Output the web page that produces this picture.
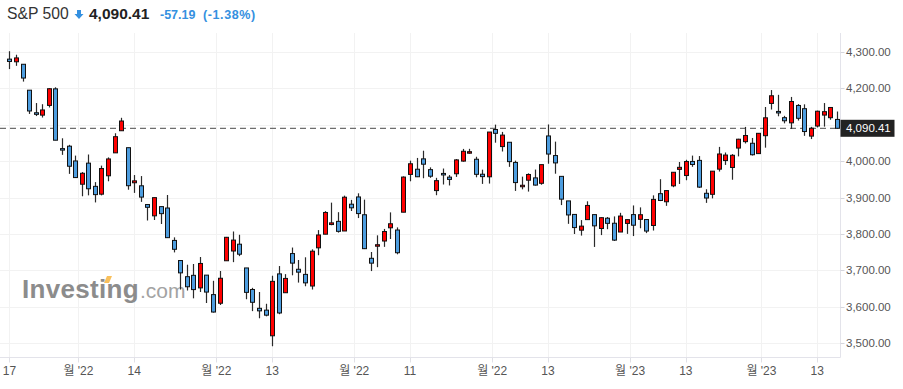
<!DOCTYPE html>
<html>
<head>
<meta charset="utf-8">
<script src="https://cdn.jsdelivr.net/npm/d3@7"></script>
<style>
  body { margin: 0; background: #fff; }
  svg { display: block; font-family: "Liberation Sans", Arial, "Noto Sans CJK KR", sans-serif; }
</style>
</head>
<body>
<script>
// S&P 500 daily candles, Aug 17 2022 - Feb 16 2023
var dates = [
  "2022-08-17","2022-08-18","2022-08-19","2022-08-22","2022-08-23","2022-08-24","2022-08-25","2022-08-26","2022-08-29","2022-08-30","2022-08-31",
  "2022-09-01","2022-09-02","2022-09-06","2022-09-07","2022-09-08","2022-09-09","2022-09-12","2022-09-13","2022-09-14","2022-09-15","2022-09-16",
  "2022-09-19","2022-09-20","2022-09-21","2022-09-22","2022-09-23","2022-09-26","2022-09-27","2022-09-28","2022-09-29","2022-09-30",
  "2022-10-03","2022-10-04","2022-10-05","2022-10-06","2022-10-07","2022-10-10","2022-10-11","2022-10-12","2022-10-13","2022-10-14",
  "2022-10-17","2022-10-18","2022-10-19","2022-10-20","2022-10-21","2022-10-24","2022-10-25","2022-10-26","2022-10-27","2022-10-28","2022-10-31",
  "2022-11-01","2022-11-02","2022-11-03","2022-11-04","2022-11-07","2022-11-08","2022-11-09","2022-11-10","2022-11-11","2022-11-14","2022-11-15",
  "2022-11-16","2022-11-17","2022-11-18","2022-11-21","2022-11-22","2022-11-23","2022-11-25","2022-11-28","2022-11-29","2022-11-30",
  "2022-12-01","2022-12-02","2022-12-05","2022-12-06","2022-12-07","2022-12-08","2022-12-09","2022-12-12","2022-12-13","2022-12-14","2022-12-15",
  "2022-12-16","2022-12-19","2022-12-20","2022-12-21","2022-12-22","2022-12-23","2022-12-27","2022-12-28","2022-12-29","2022-12-30",
  "2023-01-03","2023-01-04","2023-01-05","2023-01-06","2023-01-09","2023-01-10","2023-01-11","2023-01-12","2023-01-13","2023-01-17",
  "2023-01-18","2023-01-19","2023-01-20","2023-01-23","2023-01-24","2023-01-25","2023-01-26","2023-01-27","2023-01-30","2023-01-31",
  "2023-02-01","2023-02-02","2023-02-03","2023-02-06","2023-02-07","2023-02-08","2023-02-09","2023-02-10","2023-02-13","2023-02-14","2023-02-15","2023-02-16"
];
var open = [
  4280.40,4273.13,4266.31,4195.08,4133.09,4126.55,4153.26,4198.74,4034.58,4041.25,4000.67,
  3936.73,3994.66,3930.89,3909.43,3959.94,4022.94,4083.67,4037.12,3940.73,3932.41,3880.95,
  3849.91,3875.23,3871.40,3782.36,3727.14,3682.72,3686.44,3651.94,3687.01,3633.48,
  3609.78,3726.46,3753.25,3771.97,3706.74,3647.51,3595.86,3590.83,3520.37,3690.41,
  3638.65,3746.26,3703.11,3689.05,3657.10,3762.01,3799.44,3825.97,3834.69,3808.26,3881.85,
  3901.79,3852.90,3733.25,3766.98,3780.71,3817.02,3810.94,3859.89,3963.72,3977.97,4006.41,
  3976.82,3919.26,3966.39,3956.23,3965.51,4000.30,4023.34,4005.36,3964.19,3957.18,
  4087.14,4040.17,4052.02,3996.63,3933.28,3947.79,3954.17,3939.29,4069.38,4015.54,3958.37,
  3890.91,3853.79,3810.47,3839.49,3853.26,3815.11,3843.34,3829.56,3805.45,3829.06,
  3853.29,3840.36,3839.74,3823.37,3910.82,3888.57,3932.35,3977.57,3960.60,3999.28,
  4002.25,3911.84,3909.04,3978.14,4001.74,3982.71,4036.08,4053.72,4049.27,4020.85,
  4070.07,4158.68,4136.69,4119.57,4105.35,4153.11,4144.25,4068.92,4096.62,4126.70,4119.50,4114.75
];
var high = [
  4302.18,4292.53,4266.31,4195.08,4159.77,4156.56,4200.54,4203.04,4062.99,4044.98,4015.37,
  3970.23,4018.43,3942.55,3987.89,4010.50,4076.81,4119.28,4037.12,3961.94,3959.14,3880.95,
  3900.45,3876.01,3907.07,3790.78,3727.14,3715.67,3717.53,3736.74,3687.01,3671.44,
  3698.35,3791.92,3806.91,3797.93,3706.74,3652.17,3640.66,3608.34,3685.41,3712.00,
  3689.73,3762.79,3728.58,3736.00,3757.89,3810.74,3862.85,3886.15,3859.95,3905.42,3893.73,
  3911.79,3894.44,3750.59,3796.34,3813.95,3859.40,3818.20,3958.33,4001.48,4008.97,4028.84,
  3983.09,3954.33,3979.89,3962.00,4005.88,4033.78,4034.02,4012.27,3976.77,4080.11,
  4100.51,4080.48,4052.45,4001.51,3957.57,3966.64,3977.02,3990.71,4100.96,4053.76,3958.37,
  3890.91,3854.86,3838.24,3889.82,3853.26,3845.80,3846.65,3848.33,3858.19,3839.85,
  3878.46,3873.16,3839.74,3906.19,3950.57,3919.83,3970.07,3997.76,4003.95,4015.39,
  4014.16,3922.94,3972.96,4039.31,4023.92,4019.55,4061.57,4094.21,4063.85,4077.16,
  4148.95,4195.44,4182.36,4124.63,4176.54,4156.85,4156.23,4094.36,4138.90,4159.77,4148.11,4136.54
];
var low = [
  4253.08,4261.98,4218.70,4129.86,4124.03,4119.97,4147.59,4057.66,4017.42,3965.21,3954.53,
  3903.65,3906.21,3886.75,3906.03,3944.81,4022.94,4083.67,3921.65,3912.97,3888.28,3837.08,
  3838.50,3827.54,3789.49,3749.45,3647.47,3644.76,3623.29,3640.61,3610.40,3584.13,
  3604.93,3726.46,3722.66,3739.22,3620.73,3588.10,3568.45,3573.86,3491.58,3579.68,
  3638.65,3686.53,3666.51,3656.44,3647.42,3741.65,3799.44,3824.07,3803.79,3808.26,3863.18,
  3843.80,3758.68,3698.15,3708.84,3764.70,3786.28,3744.22,3859.89,3944.82,3956.40,3953.17,
  3954.34,3906.54,3935.98,3933.34,3956.88,3998.66,4020.76,3955.77,3937.65,3938.58,
  4050.87,4026.63,3984.49,3918.39,3922.68,3916.54,3933.04,3935.30,3993.03,3965.65,3879.45,
  3827.91,3800.04,3795.62,3839.49,3764.49,3797.01,3813.22,3780.78,3805.45,3800.34,
  3794.33,3815.77,3802.42,3809.56,3890.42,3877.29,3928.54,3937.56,3947.67,3984.57,
  3926.59,3885.54,3897.86,3971.64,3989.79,3949.06,4013.29,4048.70,4015.55,4020.44,
  4037.20,4141.88,4123.36,4103.98,4088.39,4111.67,4069.67,4060.79,4092.67,4095.01,4113.86,4089.39
];
var close = [
  4274.04,4283.74,4228.48,4137.99,4128.73,4140.77,4199.12,4057.66,4030.61,3986.16,3955.00,
  3966.85,3924.26,3908.19,3979.87,4006.18,4067.36,4110.41,3932.69,3946.01,3901.35,3873.33,
  3899.89,3855.93,3789.93,3757.99,3693.23,3655.04,3647.29,3719.04,3640.47,3585.62,
  3678.43,3790.93,3783.28,3744.52,3639.66,3612.39,3588.84,3577.03,3669.91,3583.07,
  3677.95,3719.98,3695.16,3665.78,3752.75,3797.34,3859.11,3830.60,3807.30,3901.06,3871.98,
  3856.10,3759.69,3719.89,3770.55,3806.80,3828.11,3748.57,3956.37,3992.93,3957.25,3991.73,
  3958.79,3946.56,3965.34,3949.94,4003.58,4027.26,4026.12,3963.94,3957.63,4080.11,
  4076.57,4071.70,3998.84,3941.26,3933.92,3963.51,3934.38,3990.56,4019.65,3995.32,3895.75,
  3852.36,3817.66,3821.62,3878.44,3822.39,3844.82,3829.25,3783.22,3849.28,3839.50,
  3824.14,3852.97,3808.10,3895.08,3892.09,3919.25,3969.61,3983.17,3999.09,3990.97,
  3928.86,3898.85,3972.61,4019.81,4016.95,4016.22,4060.43,4070.56,4017.77,4076.60,
  4119.21,4179.76,4136.48,4111.08,4164.00,4117.86,4081.50,4090.46,4137.29,4136.13,4147.60,4090.41
];
var yTicks = [3500, 3600, 3700, 3800, 3900, 4000, 4100, 4200, 4300];
var xTickDates = ["2022-08-17","2022-09-01","2022-09-14","2022-10-03","2022-10-13","2022-11-01","2022-11-11",
  "2022-12-01","2022-12-13","2023-01-03","2023-01-13","2023-02-01","2023-02-13"];
var xTickLabels = ["17","월 '22","14","월 '22","13","월 '22","11","월 '22","13","월 '23","13","월 '23","13"];
var title = "S&P 500";
var lastPrice = 4090.41;
var change = -57.19;
var changePct = -1.38;

var width = 903;
var height = 389;
var plotTop = 33;
var plotBottom = 357.5;
var plotRight = 840.5;
var upColor = "#ff0000";
var downColor = "#4d9ddf";
var headColor = "#3490e0";

var svg = d3
  .select("body")
  .append("svg")
  .attr("width", width)
  .attr("height", height);

var fmt = d3.format(",.2f");
// plain hyphen for negatives, like the source
var fmtSigned = function(v) { return d3.format(".2f")(v).replace("\u2212", "-"); };

var xScale = d3
  .scaleBand()
  .domain(dates)
  .range([6.2, 840.2]);
var bw = xScale.bandwidth();
var yScale = d3
  .scaleLinear()
  .domain([3500, 4300])
  .range([343.2, 52]);

function tickX(d, i) {
  // month ticks sit at the day boundary, day ticks at the candle centre
  return xTickLabels[i].indexOf("월") >= 0 ? xScale(d) : xScale(d) + bw / 2;
}

// grid
var grid = svg.append("g");
grid
  .selectAll("line.h")
  .data(yTicks)
  .enter()
  .append("line")
  .attr("x1", 0)
  .attr("x2", plotRight)
  .attr("y1", function(d) { return Math.round(yScale(d)) + 0.5; })
  .attr("y2", function(d) { return Math.round(yScale(d)) + 0.5; })
  .attr("stroke", "#f2f2f2");
grid
  .selectAll("line.v")
  .data(xTickDates)
  .enter()
  .append("line")
  .attr("x1", function(d, i) { return Math.round(tickX(d, i)) + 0.5; })
  .attr("x2", function(d, i) { return Math.round(tickX(d, i)) + 0.5; })
  .attr("y1", plotTop)
  .attr("y2", plotBottom)
  .attr("stroke", "#f2f2f2");

// watermark
var wm = svg.append("g");
wm.append("text")
  .attr("x", 22)
  .attr("y", 298)
  .attr("font-size", 26)
  .attr("font-weight", "bold")
  .attr("fill", "#8c8c8c")
  .attr("letter-spacing", 0.3)
  .text("Investing");
wm.append("text")
  .attr("x", 140)
  .attr("y", 298)
  .attr("font-size", 21)
  .attr("fill", "#a3a3a3")
  .text(".com");
wm.append("path")
  .attr("d", "M104,283 L107,276 L112,276 L109,283 Z")
  .attr("fill", "#f9c05c");

// last price dashed line
svg.append("line")
  .attr("x1", 0)
  .attr("x2", plotRight)
  .attr("y1", yScale(lastPrice))
  .attr("y2", yScale(lastPrice))
  .attr("stroke", "#6e6e6e")
  .attr("stroke-width", 1.3)
  .attr("stroke-dasharray", "6,4");

// candles
var candles = svg
  .append("g")
  .selectAll("g")
  .data(dates)
  .enter()
  .append("g");
candles
  .append("line")
  .attr("x1", function(d) { return Math.round(xScale(d) + bw / 2) + 0.5; })
  .attr("x2", function(d) { return Math.round(xScale(d) + bw / 2) + 0.5; })
  .attr("y1", function(d, i) { return yScale(high[i]); })
  .attr("y2", function(d, i) { return yScale(low[i]); })
  .attr("stroke", "#2a2a2a")
  .attr("stroke-width", 1.2);
candles
  .append("rect")
  .attr("x", function(d) { return Math.round(xScale(d) + bw / 2) - 1.5; })
  .attr("width", 4)
  .attr("y", function(d, i) { return yScale(Math.max(open[i], close[i])); })
  .attr("height", function(d, i) {
    return Math.max(1.5, Math.abs(yScale(open[i]) - yScale(close[i])));
  })
  .attr("fill", function(d, i) { return close[i] >= open[i] ? upColor : downColor; })
  .attr("stroke", "#111")
  .attr("stroke-width", 1);

// bottom axis
svg.append("line")
  .attr("x1", 0)
  .attr("x2", plotRight)
  .attr("y1", plotBottom)
  .attr("y2", plotBottom)
  .attr("stroke", "#e3e3ea");
svg.append("g")
  .selectAll("line")
  .data(xTickDates)
  .enter()
  .append("line")
  .attr("x1", function(d, i) { return Math.round(tickX(d, i)) + 0.5; })
  .attr("x2", function(d, i) { return Math.round(tickX(d, i)) + 0.5; })
  .attr("y1", plotBottom)
  .attr("y2", plotBottom + 5)
  .attr("stroke", "#e0e0e6");
svg.append("g")
  .selectAll("text")
  .data(xTickDates)
  .enter()
  .append("text")
  .attr("x", function(d, i) { return tickX(d, i); })
  .attr("y", 375)
  .attr("text-anchor", "middle")
  .attr("font-size", 12)
  .attr("fill", "#555")
  .text(function(d, i) { return xTickLabels[i]; });

// right axis
svg.append("line")
  .attr("x1", plotRight)
  .attr("x2", plotRight)
  .attr("y1", plotTop)
  .attr("y2", plotBottom)
  .attr("stroke", "#e3e3ea");
var yAx = svg.append("g");
yAx.selectAll("line")
  .data(yTicks)
  .enter()
  .append("line")
  .attr("x1", plotRight)
  .attr("x2", plotRight + 4)
  .attr("y1", function(d) { return Math.round(yScale(d)) + 0.5; })
  .attr("y2", function(d) { return Math.round(yScale(d)) + 0.5; })
  .attr("stroke", "#d5d5dc");
// labels hidden under the price tag are left out
yAx.selectAll("text")
  .data(yTicks.filter(function(d) { return Math.abs(yScale(d) - yScale(lastPrice)) > 12; }))
  .enter()
  .append("text")
  .attr("x", 846)
  .attr("y", function(d) { return yScale(d) + 4; })
  .attr("font-size", 11.5)
  .attr("fill", "#555")
  .text(function(d) { return fmt(d); });

// last price tag
svg.append("rect")
  .attr("x", plotRight)
  .attr("y", yScale(lastPrice) - 8.5)
  .attr("width", 54)
  .attr("height", 17)
  .attr("fill", "#222");
svg.append("text")
  .attr("x", 846)
  .attr("y", yScale(lastPrice) + 4)
  .attr("font-size", 11.5)
  .attr("fill", "#fff")
  .text(fmt(lastPrice));

// header
svg.append("text")
  .attr("x", 7)
  .attr("y", 19)
  .attr("font-size", 15.7)
  .attr("fill", "#333")
  .text(title);
svg.append("path")
  .attr("d", "M77,10 L81,10 L81,14 L83.5,14 L79,19 L74.5,14 L77,14 Z")
  .attr("fill", headColor);
svg.append("text")
  .attr("x", 89)
  .attr("y", 19)
  .attr("font-size", 15.5)
  .attr("font-weight", "bold")
  .attr("fill", "#222")
  .text(fmt(lastPrice));
svg.append("text")
  .attr("x", 160)
  .attr("y", 19)
  .attr("font-size", 12.5)
  .attr("font-weight", "bold")
  .attr("fill", headColor)
  .text(fmtSigned(change));
svg.append("text")
  .attr("x", 203)
  .attr("y", 19)
  .attr("font-size", 12.5)
  .attr("font-weight", "bold")
  .attr("fill", headColor)
  .attr("letter-spacing", 0.6)
  .text("(" + fmtSigned(changePct) + "%)");
</script>
</body>
</html>
